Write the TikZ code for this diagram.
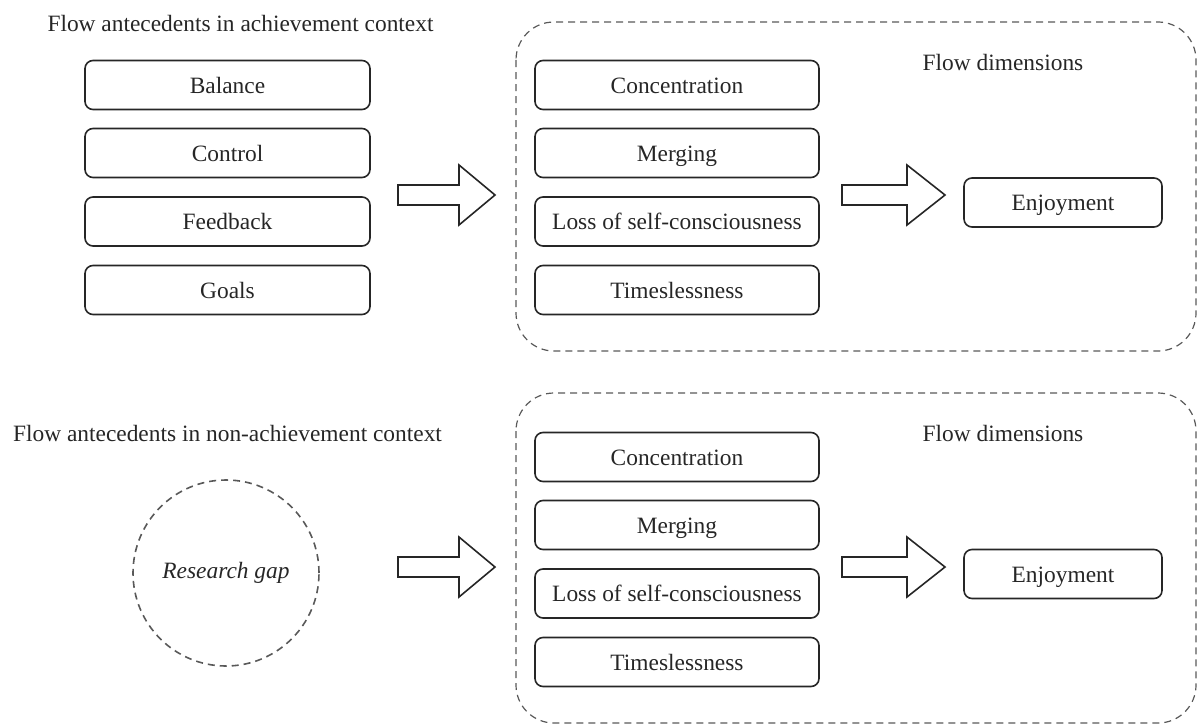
\documentclass[tikz,border=0pt]{standalone}
\usepackage{fontspec}
\setmainfont{Liberation Serif}
\begin{document}
\begin{tikzpicture}[x=1pt,y=-1pt,
  every node/.style={font=\fontsize{23.4}{28}\selectfont, text=black!85},
  item/.style={draw=black!85, line width=1.6pt, rounded corners=8pt, minimum height=49pt, inner sep=0pt, text height=16pt, text depth=0pt},
  leftbox/.style={item, minimum width=285pt},
  dimbox/.style={item, minimum width=284pt},
  enjbox/.style={item, minimum width=198pt},
  group/.style={draw=black!65, line width=1.2pt, dash pattern=on 7pt off 5pt, rounded corners=38pt},
  gapcircle/.style={draw=black!65, line width=1.6pt, dash pattern=on 7pt off 5pt, circle, minimum size=186pt, inner sep=0pt},
  blockarrow/.style={draw=black!85, line width=1.6pt, line join=miter, fill=white},
  label/.style={inner sep=0pt}
]
\useasboundingbox (0,0) rectangle (1198,725);

% ---------- top section ----------
\node[label] (t1) at (240.5,23) {Flow antecedents in achievement context};
\node[leftbox] (bal) at (227.5,85) {Balance};
\node[leftbox] (con) at (227.5,153) {Control};
\node[leftbox] (fee) at (227.5,221.5) {Feedback};
\node[leftbox] (goa) at (227.5,290) {Goals};

\draw[group] (516,22) rectangle (1196,351);
\node[label] (fd1) at (1003,62) {Flow dimensions};
\node[dimbox] (c1) at (677,85) {Concentration};
\node[dimbox] (m1) at (677,153) {Merging};
\node[dimbox] (l1) at (677,221.5) {Loss of self-consciousness};
\node[dimbox] (ti1) at (677,290) {Timeslessness};
\node[enjbox] (e1) at (1063,202.5) {Enjoyment};

\draw[blockarrow] (398,185) -- (459,185) -- (459,165) -- (495,195) -- (459,225) -- (459,205) -- (398,205) -- cycle;
\draw[blockarrow] (842,185) -- (907,185) -- (907,165) -- (945,195) -- (907,225) -- (907,205) -- (842,205) -- cycle;

% ---------- bottom section ----------
\node[label] (t2) at (227.5,433) {Flow antecedents in non-achievement context};
\node[gapcircle] (gap) at (226,573) {\itshape Research gap};

\draw[group] (516,393) rectangle (1196,723);
\node[label] (fd2) at (1003,433) {Flow dimensions};
\node[dimbox] (c2) at (677,457) {Concentration};
\node[dimbox] (m2) at (677,525) {Merging};
\node[dimbox] (l2) at (677,593.5) {Loss of self-consciousness};
\node[dimbox] (ti2) at (677,662) {Timeslessness};
\node[enjbox] (e2) at (1063,574) {Enjoyment};

\draw[blockarrow] (398,557) -- (459,557) -- (459,537) -- (495,567) -- (459,597) -- (459,577) -- (398,577) -- cycle;
\draw[blockarrow] (842,557) -- (907,557) -- (907,537) -- (945,567) -- (907,597) -- (907,577) -- (842,577) -- cycle;
\end{tikzpicture}
\end{document}
